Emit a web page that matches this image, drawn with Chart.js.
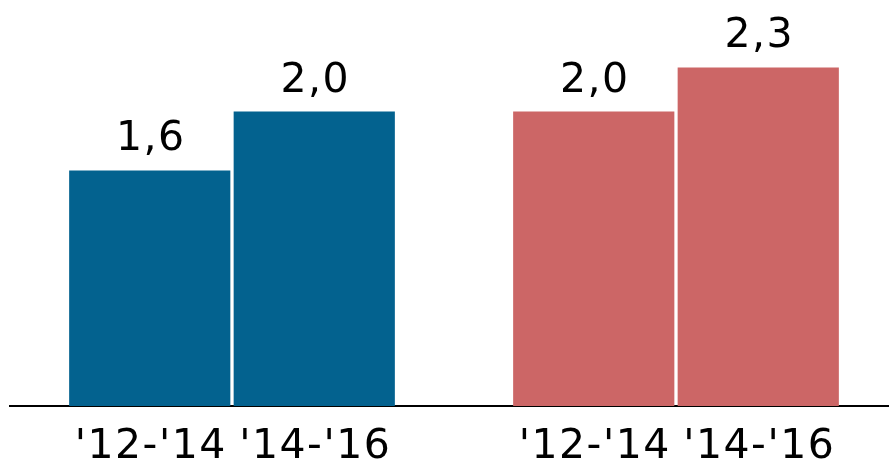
<!DOCTYPE html>
<html>
<head>
<meta charset="utf-8">
<script src="https://cdn.jsdelivr.net/npm/chart.js@4/dist/chart.umd.min.js"></script>
<style>
html,body{margin:0;padding:0;background:#fff;overflow:hidden;width:889px;height:463px;}
#wrap{position:absolute;left:0;top:0;width:898px;height:463px;}
</style>
</head>
<body>
<div id="wrap"><canvas id="c" width="898" height="463"></canvas></div>
<script>
// Data
const groups = ["A", "B"];
const periods = ["'12-'14", "'14-'16"];
const values1214 = [1.6, 2.0];
const values1416 = [2.0, 2.3];
const groupColors = ["#03628f", "#cc6666"];

const fmt = v => v.toFixed(1).replace('.', ',');
const FONT = '41px "DejaVu Sans", Verdana, sans-serif';

const labelPlugin = {
  id: 'labels',
  afterDatasetsDraw(chart) {
    const ctx = chart.ctx;
    ctx.save();
    ctx.font = FONT;
    if ('letterSpacing' in ctx) ctx.letterSpacing = '1.5px';
    ctx.fillStyle = '#000';
    ctx.textAlign = 'center';
    ctx.textBaseline = 'alphabetic';
    chart.data.datasets.forEach((ds, di) => {
      const meta = chart.getDatasetMeta(di);
      meta.data.forEach((bar, i) => {
        ctx.fillText(fmt(ds.data[i]), bar.x + 1, bar.y - 20);
        ctx.fillText(ds.label, bar.x + 1, 458);
      });
    });
    ctx.restore();
  }
};

new Chart(document.getElementById('c'), {
  type: 'bar',
  data: {
    labels: groups,
    datasets: [
      { label: periods[0], data: values1214, backgroundColor: groupColors },
      { label: periods[1], data: values1416, backgroundColor: groupColors }
    ]
  },
  options: {
    responsive: false,
    animation: false,
    layout: { padding: { left: 10, right: 0, top: 0, bottom: 57 } },
    categoryPercentage: 0.741,
    barPercentage: 0.98,
    plugins: { legend: { display: false }, tooltip: { enabled: false } },
    scales: {
      x: {
        grid: { display: false, drawTicks: false },
        border: { display: true, color: '#000', width: 2 },
        ticks: { display: false }
      },
      y: {
        display: false,
        min: 0,
        max: 2.758
      }
    }
  },
  plugins: [labelPlugin]
});
</script>
</body>
</html>
